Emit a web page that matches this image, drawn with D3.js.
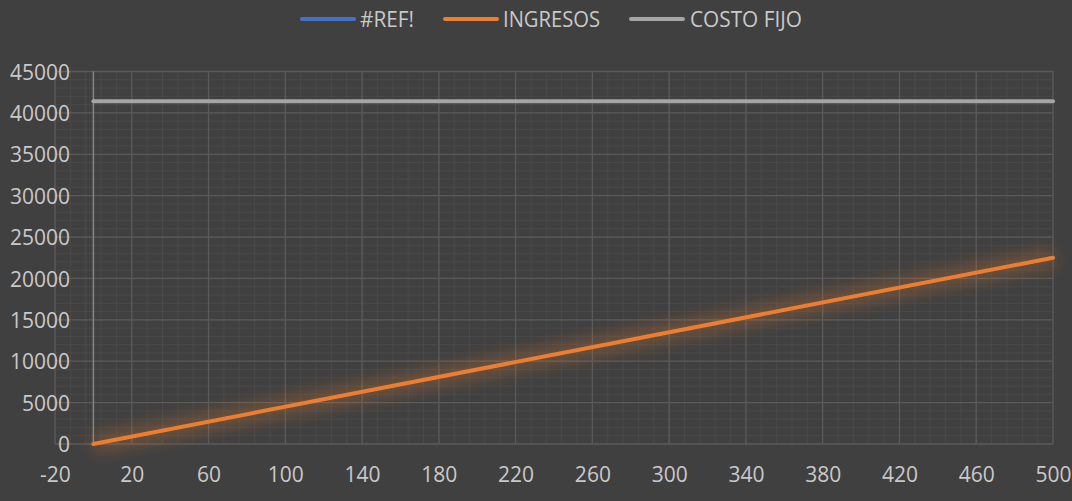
<!DOCTYPE html>
<html><head><meta charset="utf-8">
<script src="https://cdn.jsdelivr.net/npm/d3@7"></script>
<style>html,body{margin:0;padding:0;background:#404040;}svg{display:block;}</style>
</head><body>
<svg id="chart" width="1072" height="501"></svg>
<script>
// Data
const seriesNames = ["#REF!", "INGRESOS", "COSTO FIJO"];
const seriesColors = ["#4472C4", "#ED7D31", "#A5A5A5"];
const ingresosX = [0, 500];
const ingresosY = [0, 22500];
const costoFijoX = [0, 500];
const costoFijoY = [41400, 41400];
const xTicks = [-20, 20, 60, 100, 140, 180, 220, 260, 300, 340, 380, 420, 460, 500];
const yTicks = [0, 5000, 10000, 15000, 20000, 25000, 30000, 35000, 40000, 45000];

const svg = d3.select("#chart");
const W = 1072, H = 501;
const L = 55, R = 1053, T = 71.5, B = 444;
svg.append("rect").attr("width", W).attr("height", H).attr("fill", "#404040");

const x = d3.scaleLinear().domain([-20, 500]).range([L, R]);
const y = d3.scaleLinear().domain([0, 45000]).range([B, T]);

const defs = svg.append("defs");
const glow = defs.append("filter").attr("id", "glow").attr("x", "-10%").attr("y", "-60%").attr("width", "120%").attr("height", "220%");
glow.append("feGaussianBlur").attr("stdDeviation", 8);
const glow2 = defs.append("filter").attr("id", "glow2").attr("x", "-10%").attr("y", "-500%").attr("width", "120%").attr("height", "1100%");
glow2.append("feGaussianBlur").attr("stdDeviation", 5);

const font = "'Open Sans', sans-serif";
const txt = "#c9c9c9";

// minor grid
const minorX = d3.range(-20, 500.01, 8);
const minorY = d3.range(0, 45000.1, 1000);
const g = svg.append("g");
g.selectAll(".mx").data(minorX).join("line")
  .attr("x1", d => x(d)).attr("x2", d => x(d)).attr("y1", T).attr("y2", B)
  .attr("stroke", "#494949").attr("stroke-width", 1);
g.selectAll(".my").data(minorY).join("line")
  .attr("y1", d => y(d)).attr("y2", d => y(d)).attr("x1", L).attr("x2", R)
  .attr("stroke", "#494949").attr("stroke-width", 1);
// major grid
g.selectAll(".Mx").data(xTicks).join("line")
  .attr("x1", d => x(d)).attr("x2", d => x(d)).attr("y1", T).attr("y2", B)
  .attr("stroke", "#5a5a5a").attr("stroke-width", 1.3);
g.selectAll(".My").data(yTicks).join("line")
  .attr("y1", d => y(d)).attr("y2", d => y(d)).attr("x1", L).attr("x2", R)
  .attr("stroke", "#5a5a5a").attr("stroke-width", 1.3);

// axis line at x=0
svg.append("line").attr("x1", x(0)).attr("x2", x(0)).attr("y1", T).attr("y2", B)
  .attr("stroke", "#858585").attr("stroke-width", 1.5);

// Axes labels via d3 axes
const fmt = d => String(d);
const yAxis = d3.axisLeft(y).tickValues(yTicks).tickSize(0).tickPadding(0).tickFormat(fmt);
const ya = svg.append("g").attr("transform", `translate(70,0)`).call(yAxis);
ya.select(".domain").remove();
ya.selectAll("text").attr("font-family", font).attr("font-size", 21).attr("fill", txt).attr("dy", "0.36em");

const xAxis = d3.axisBottom(x).tickValues(xTicks).tickSize(0).tickPadding(0).tickFormat(fmt);
const xa = svg.append("g").attr("transform", `translate(0,482)`).call(xAxis);
xa.select(".domain").remove();
xa.selectAll("text").attr("font-family", font).attr("font-size", 21).attr("fill", txt).attr("dy", 0);

// Lines
const line = d3.line().x(d => x(d[0])).y(d => y(d[1]));
const ingData = ingresosX.map((v, i) => [v, ingresosY[i]]);
const cfData = costoFijoX.map((v, i) => [v, costoFijoY[i]]);

svg.append("path").datum(cfData).attr("d", line).attr("fill", "none")
  .attr("stroke", seriesColors[2]).attr("stroke-width", 8).attr("stroke-opacity", 0.3).attr("filter", "url(#glow2)");
svg.append("path").datum(ingData).attr("d", line).attr("fill", "none")
  .attr("stroke", seriesColors[1]).attr("stroke-width", 18).attr("stroke-opacity", 0.28).attr("filter", "url(#glow)");

svg.append("path").datum(cfData).attr("d", line).attr("fill", "none")
  .attr("stroke", seriesColors[2]).attr("stroke-width", 4).attr("stroke-linecap", "round");
svg.append("path").datum(ingData).attr("d", line).attr("fill", "none")
  .attr("stroke", seriesColors[1]).attr("stroke-width", 4).attr("stroke-linecap", "round");

// Legend
const legendItems = [
  {x1: 302, x2: 354, tx: 360, tl: 54},
  {x1: 445, x2: 497, tx: 503, tl: 97},
  {x1: 631, x2: 683, tx: 690, tl: 112}
];
const lg = svg.append("g");
legendItems.forEach((it, i) => {
  lg.append("line").attr("x1", it.x1).attr("x2", it.x2).attr("y1", 19).attr("y2", 19)
    .attr("stroke", seriesColors[i]).attr("stroke-width", 4).attr("stroke-linecap", "round");
  lg.append("text").attr("x", it.tx).attr("y", 26.5).text(seriesNames[i])
    .attr("font-family", font).attr("font-size", 21).attr("fill", txt)
    .attr("textLength", it.tl).attr("lengthAdjust", "spacingAndGlyphs");
});
</script>
</body></html>
